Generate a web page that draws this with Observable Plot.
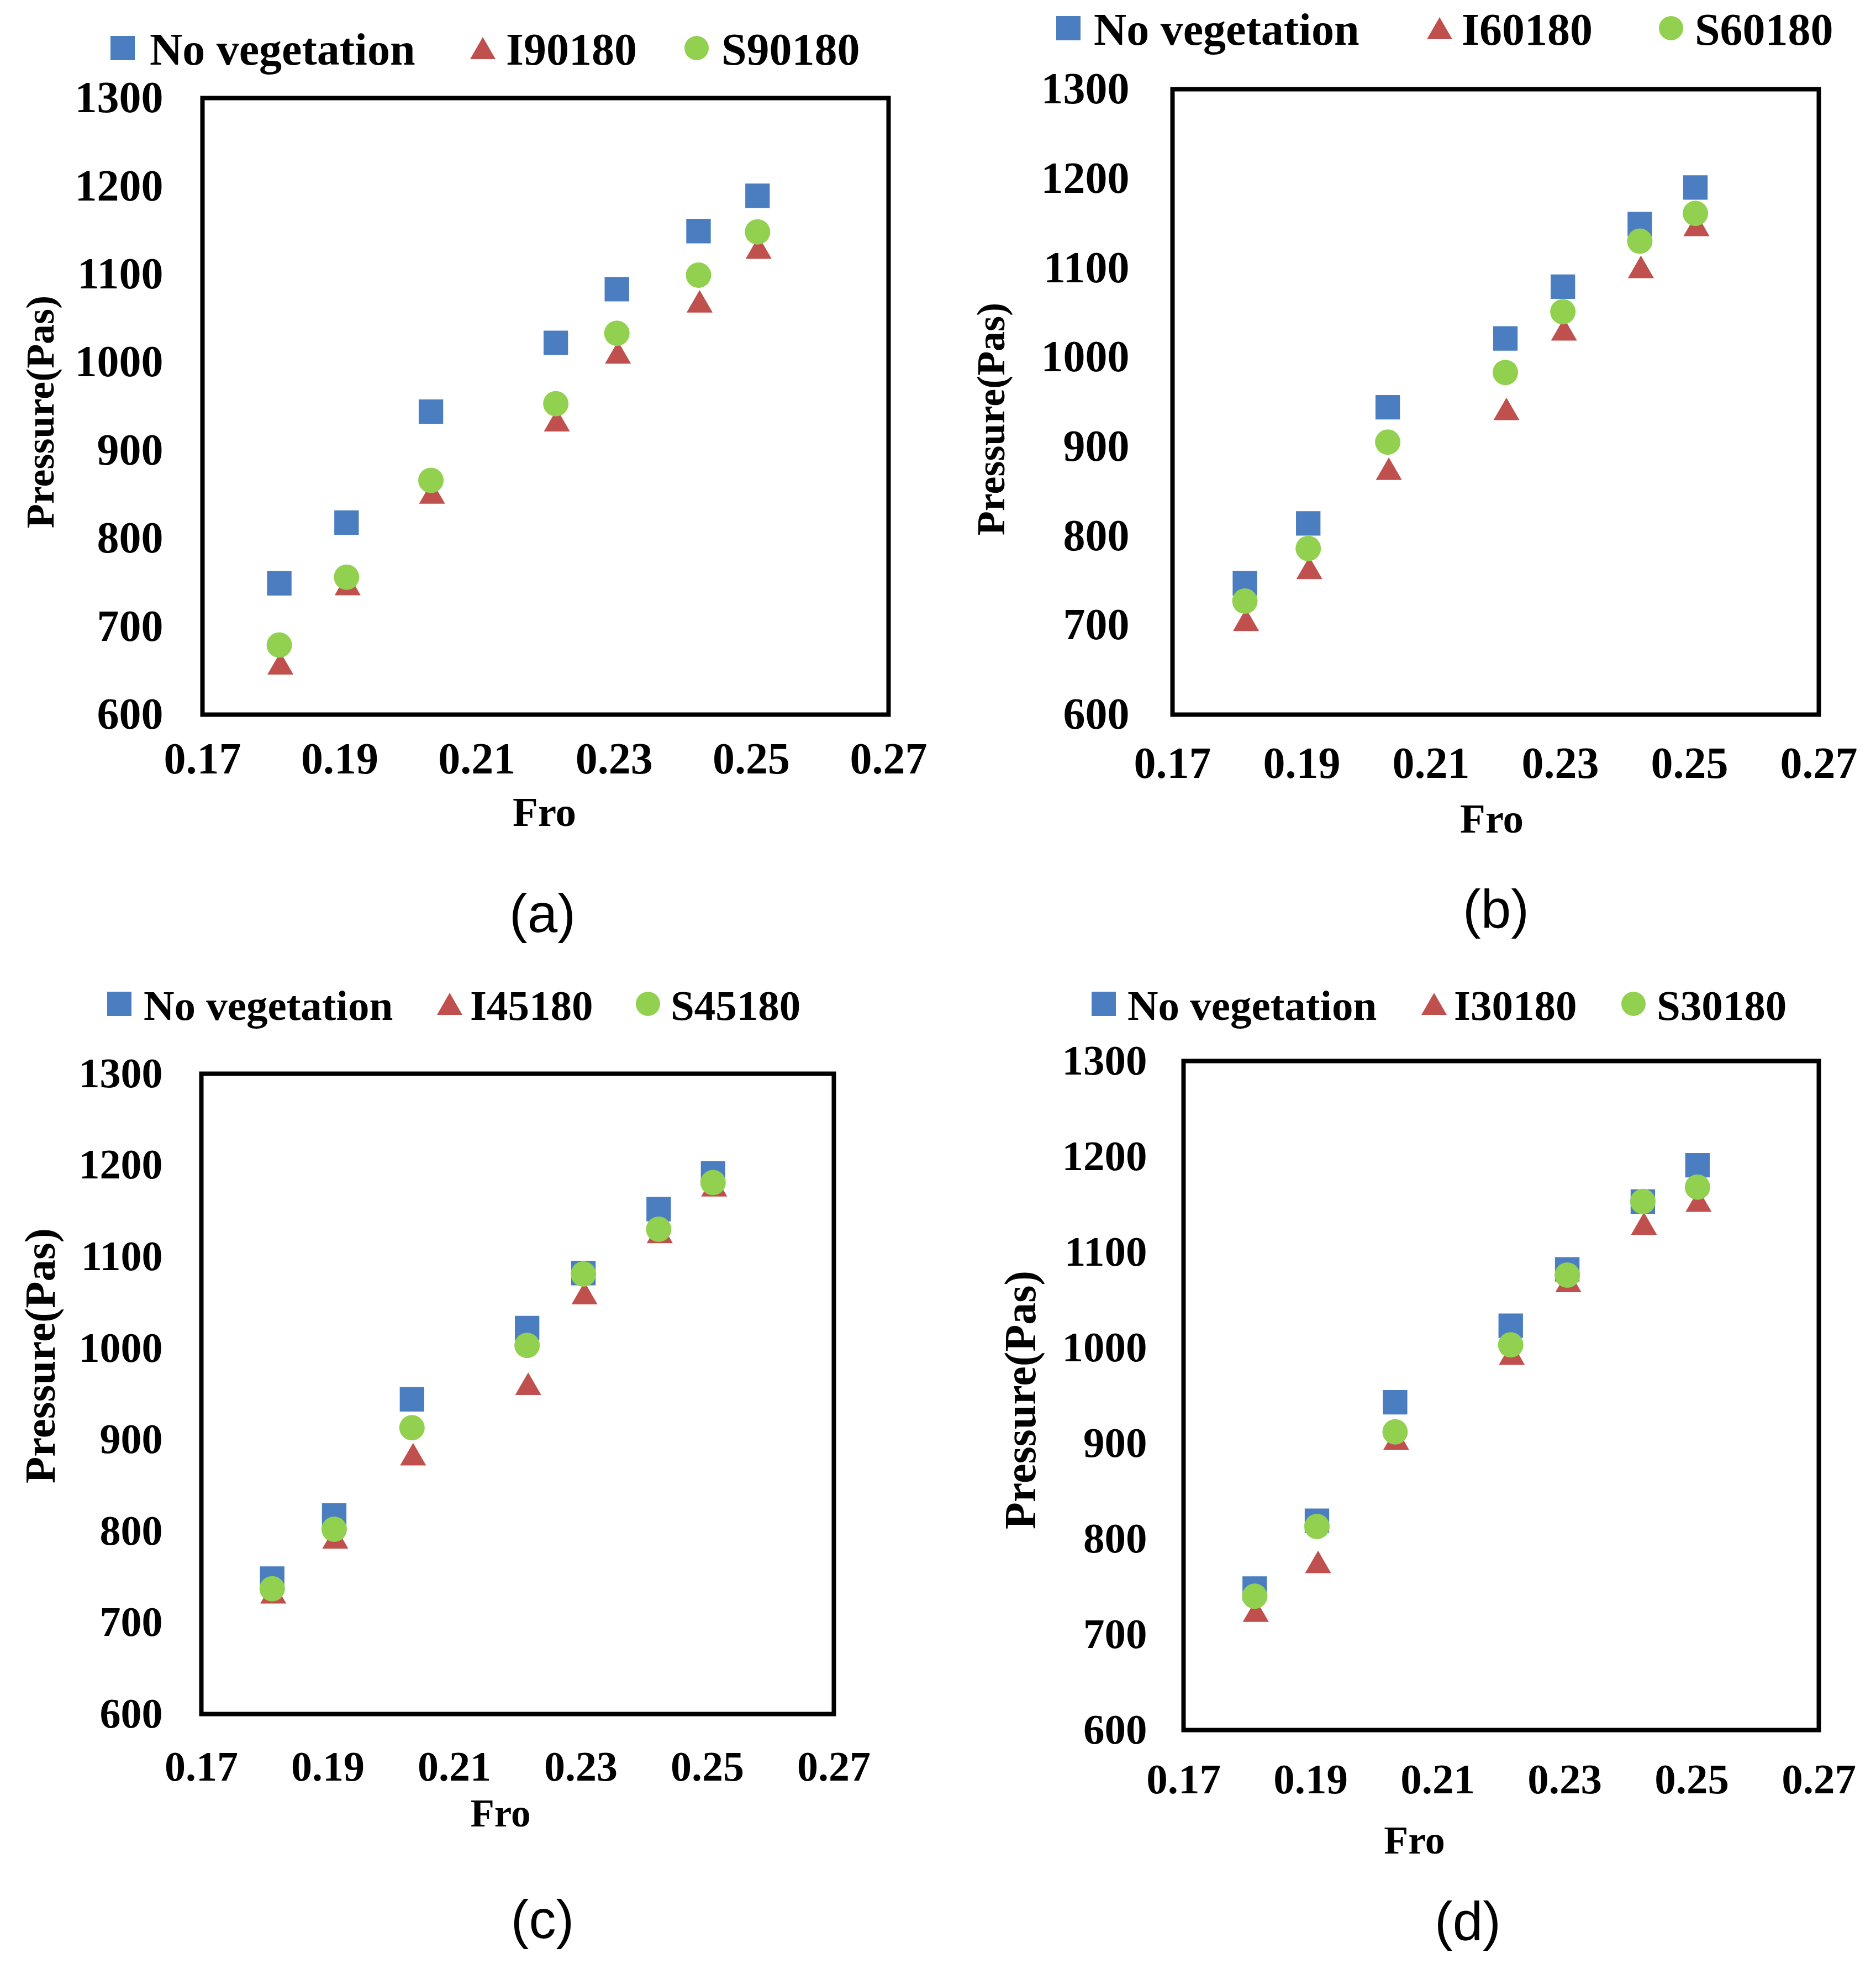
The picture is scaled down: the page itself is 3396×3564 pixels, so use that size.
<!DOCTYPE html>
<html>
<head>
<meta charset="utf-8">
<script src="https://cdn.jsdelivr.net/npm/d3@7"></script>
<script src="https://cdn.jsdelivr.net/npm/@observablehq/plot@0.6"></script>
<style>
  html, body { margin: 0; padding: 0; background: #fff; }
  #page { position: relative; width: 3396px; height: 3564px; background: #fff; overflow: hidden; }
  .quad { position: absolute; width: 1698px; height: 1782px; }
  .quad svg { position: absolute; left: 0; top: 0; }
  .leg { position: absolute; font-family: "Liberation Serif", "Times New Roman", serif; font-weight: bold; line-height: 1; white-space: nowrap; transform: translateY(-50%); color: #000; }
  .mk { position: absolute; }
  .cap { position: absolute; font-family: "Liberation Sans", Arial, sans-serif; font-size: 98px; line-height: 1; transform: translate(-50%, -50%); color: #000; }
</style>
</head>
<body>
<div id="page"></div>
<script>
// ---------------- data ----------------
const fro = [0.1812, 0.191, 0.2033, 0.2215, 0.2304, 0.2423, 0.2509];
const xTicks = [0.17, 0.19, 0.21, 0.23, 0.25, 0.27];
const yTicks = [600, 700, 800, 900, 1000, 1100, 1200, 1300];

const noVegA = [749, 818, 944, 1022, 1083, 1149, 1189];
const I90180 = [654, 744, 848, 930, 1007, 1065, 1126];
const S90180 = [679, 756, 866, 953, 1033, 1099, 1148];

const noVegB = [747, 814, 944, 1021, 1079, 1149, 1190];
const I60180 = [702, 760, 871, 938, 1027, 1097, 1144];
const S60180 = [727, 786, 905, 983, 1051, 1130, 1161];

const noVegC = [748, 817, 944, 1022, 1082, 1152, 1191];
const I45180 = [729, 789, 880, 957, 1056, 1123, 1174];
const S45180 = [737, 802, 913, 1003, 1081, 1130, 1181];

const noVegD = [748, 819, 943, 1023, 1082, 1153, 1191];
const I30180 = [721, 772, 901, 990, 1066, 1126, 1150];
const S30180 = [740, 813, 912, 1003, 1076, 1153, 1168];

const seriesNames = {
  a: ["No vegetation", "I90180", "S90180"],
  b: ["No vegetation", "I60180", "S60180"],
  c: ["No vegetation", "I45180", "S45180"],
  d: ["No vegetation", "I30180", "S30180"]
};
const xLabel = "Fro";
const yLabel = "Pressure(Pas)";

const BLUE = "#4A7EC0", RED = "#C0504D", GREEN = "#92D050";

const QW = 1698, QH = 1782;

const panels = [
  { id: "a", left: 0, top: 0, series: [noVegA, I90180, S90180],
    mL: 366, mT: 177, mR: 90, mB: 489, tickFs: 80, xPad: 50, yPad: 71,
    froFs: 75, froDx: -2, froDy: 177, ylFs: 72, ylDx: -293, ylDy: 10,
    legY: 87, legFs: 82, leg: [[222, 271], [874, 916], [1261, 1306]], cap: [982, 1653] },
  { id: "b", left: QW, top: 0, series: [noVegB, I60180, S60180],
    mL: 424, mT: 161, mR: 104, mB: 489, tickFs: 80, xPad: 58, yPad: 78,
    froFs: 75, froDx: -7, froDy: 189, ylFs: 72, ylDx: -328, ylDy: 31,
    legY: 51, legFs: 82, leg: [[236, 282], [908, 948], [1327, 1370]], cap: [1010, 1645] },
  { id: "c", left: 0, top: QH, series: [noVegC, I45180, S45180],
    mL: 364, mT: 161, mR: 189, mB: 462, tickFs: 76, xPad: 67, yPad: 70,
    froFs: 71, froDx: -31, froDy: 181, ylFs: 79, ylDx: -291, ylDy: -69,
    legY: 35, legFs: 77, leg: [[216, 260], [814, 851], [1173, 1214]], cap: [982, 1692] },
  { id: "d", left: QW, top: QH, series: [noVegD, I30180, S30180],
    mL: 444, mT: 138, mR: 104, mB: 433, tickFs: 77, xPad: 60, yPad: 66,
    froFs: 72, froDx: -157, froDy: 200, ylFs: 80, ylDx: -294, ylDy: 8,
    legY: 35, legFs: 77, leg: [[300, 343], [898, 934], [1259, 1301]], cap: [959, 1695] }
];

const page = document.getElementById("page");

function rowsOf(vals) { return fro.map((f, i) => ({ fro: f, p: vals[i] })); }

for (const P of panels) {
  const q = document.createElement("div");
  q.className = "quad";
  q.style.left = P.left + "px";
  q.style.top = P.top + "px";
  page.appendChild(q);

  const chart = Plot.plot({
    width: QW,
    height: QH,
    marginLeft: P.mL, marginTop: P.mT, marginRight: P.mR, marginBottom: P.mB,
    style: { fontFamily: "'Liberation Serif', 'Times New Roman', serif", fontWeight: "bold", background: "transparent", color: "#000", overflow: "visible" },
    x: { domain: [0.17, 0.27] },
    y: { domain: [600, 1300] },
    marks: [
      Plot.axisX({ ticks: xTicks, tickSize: 0, tickPadding: P.xPad, tickFormat: d3.format(".2f"), fontSize: P.tickFs, fontWeight: "bold", label: null }),
      Plot.axisY({ ticks: yTicks, tickSize: 0, tickPadding: P.yPad, tickFormat: d3.format("d"), fontSize: P.tickFs, fontWeight: "bold", label: null }),
      Plot.dot(rowsOf(P.series[0]), { x: "fro", y: "p", symbol: "square", r: 25, fill: BLUE, stroke: "none" }),
      Plot.dot(rowsOf(P.series[1]), { x: "fro", y: "p", symbol: "triangle", r: 17.5, fill: RED, stroke: "none", dx: 2 }),
      Plot.dot(rowsOf(P.series[2]), { x: "fro", y: "p", symbol: "circle", r: 23, fill: GREEN, stroke: "none" }),
      Plot.frame({ stroke: "#000", strokeWidth: 8 }),
      Plot.text([xLabel], { text: d => d, frameAnchor: "bottom", dx: P.froDx, dy: P.froDy, lineAnchor: "middle", fontSize: P.froFs, fontWeight: "bold", fill: "#000" }),
      Plot.text([yLabel], { text: d => d, frameAnchor: "left", rotate: -90, dx: P.ylDx, dy: P.ylDy, lineAnchor: "middle", textAnchor: "middle", fontSize: P.ylFs, fontWeight: "bold", fill: "#000" })
    ]
  });
  q.appendChild(chart);

  // legend
  const colors = [BLUE, RED, GREEN];
  const names = seriesNames[P.id];
  P.leg.forEach(([cx, tx], i) => {
    const m = document.createElement("div");
    m.className = "mk";
    if (i === 0) {
      Object.assign(m.style, { width: "44px", height: "44px", background: colors[i], left: (cx - 22) + "px", top: (P.legY - 22) + "px" });
    } else if (i === 1) {
      Object.assign(m.style, { width: "0", height: "0", borderLeft: "23px solid transparent", borderRight: "23px solid transparent", borderBottom: "40px solid " + colors[i], left: (cx - 23) + "px", top: (P.legY - 20) + "px" });
    } else {
      Object.assign(m.style, { width: "44px", height: "44px", borderRadius: "50%", background: colors[i], left: (cx - 22) + "px", top: (P.legY - 22) + "px" });
    }
    q.appendChild(m);
    const t = document.createElement("div");
    t.className = "leg";
    t.textContent = names[i];
    t.style.left = tx + "px";
    t.style.top = (P.legY + 3) + "px";
    t.style.fontSize = P.legFs + "px";
    q.appendChild(t);
  });

  const cap = document.createElement("div");
  cap.className = "cap";
  cap.textContent = "(" + P.id + ")";
  cap.style.left = P.cap[0] + "px";
  cap.style.top = P.cap[1] + "px";
  q.appendChild(cap);
}
</script>
</body>
</html>
